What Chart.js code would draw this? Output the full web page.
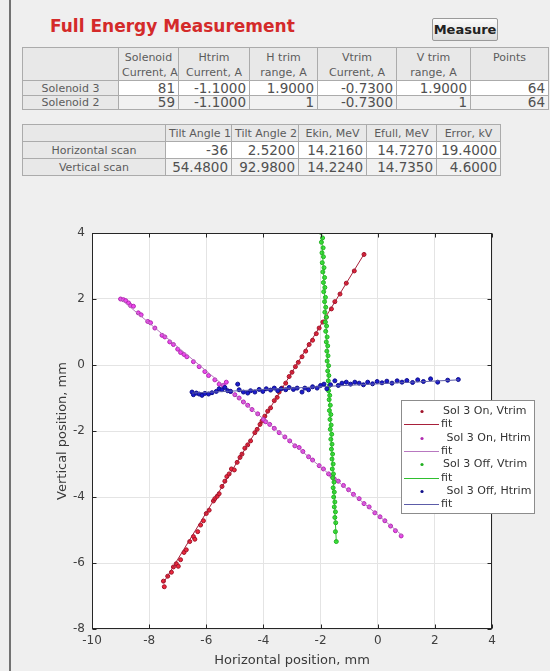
<!DOCTYPE html>
<html>
<head>
<meta charset="utf-8">
<title>Full Energy Measurement</title>
<script src="https://cdn.jsdelivr.net/npm/chart.js@4.4.1/dist/chart.umd.min.js"></script>
<style>
  html, body { margin: 0; padding: 0; }
  body {
    width: 550px; height: 671px; position: relative; overflow: hidden;
    background: #efefef; font-family: "DejaVu Sans", sans-serif;
  }
  #edge { position: absolute; left: 9px; top: 0; width: 2px; height: 671px; background: #727272; }
  #heading {
    position: absolute; left: 50px; top: 16px; margin: 0;
    font-size: 17px; font-weight: bold; color: #d42a2a; white-space: nowrap;
  }
  #measure {
    position: absolute; left: 432px; top: 18px; width: 66px; height: 23px;
    box-sizing: border-box; border: 1px solid #9a9a9a; border-radius: 2px;
    background: linear-gradient(#fbfbfb, #dcdcdc);
    font: bold 13px "DejaVu Sans", sans-serif; color: #222; padding: 0;
  }
  table.grid {
    position: absolute; left: 22px; border-collapse: collapse; table-layout: fixed;
    font-family: "DejaVu Sans", sans-serif;
  }
  table.grid td, table.grid th {
    border: 1px solid #ababab; padding: 0 3px; overflow: hidden; white-space: nowrap;
    box-sizing: border-box;
  }
  table.grid th { background: #e8e8e8; color: #5c5c5c; font-weight: normal; font-size: 11px; text-align: center; }
  table.grid td { font-size: 13.5px; color: #505050; text-align: right; }
  table.grid tr.odd td { background: #ffffff; }
  table.grid tr.even td { background: #f1f1f1; }
  #solenoids { top: 47px; width: 526px; }
  #solenoids thead th { vertical-align: top; padding-top: 2px; line-height: 15px; height: 33px; }
  #solenoids tbody tr:first-child { height: 15px; }
  #solenoids tbody tr:last-child { height: 14px; }
  #solenoids tbody th, #solenoids tbody td { line-height: 13px; }
  #scans { top: 124px; width: 478px; }
  #scans tr { height: 17px; }
  #scans th, #scans td { line-height: 15px; }
  #plot { position: absolute; left: 0; top: 180px; }
</style>
</head>
<body>
<div id="edge"></div>
<h1 id="heading">Full Energy Measurement</h1>
<button id="measure">Measure</button>
<table class="grid" id="solenoids"></table>
<table class="grid" id="scans"></table>
<canvas id="plot" width="550" height="491"></canvas>

<script>
// ---- Solenoid settings table ----
const solenoidHeaders = [["Solenoid", "Current, A"], ["Htrim", "Current, A"], ["H trim", "range, A"],
                         ["Vtrim", "Current, A"], ["V trim", "range, A"], ["Points"]];
const solenoidRows = ["Solenoid 3", "Solenoid 2"];
const solenoidValues = [
  ["81", "-1.1000", "1.9000", "-0.7300", "1.9000", "64"],
  ["59", "-1.1000", "1", "-0.7300", "1", "64"]
];
const solenoidColWidths = [96, 60, 71, 68, 79, 74, 78];

// ---- Scan results table ----
const scanHeaders = ["Tilt Angle 1", "Tilt Angle 2", "Ekin, MeV", "Efull, MeV", "Error, kV"];
const scanRows = ["Horizontal scan", "Vertical scan"];
const scanValues = [
  ["-36", "2.5200", "14.2160", "14.7270", "19.4000"],
  ["54.4800", "92.9800", "14.2240", "14.7350", "4.6000"]
];
const scanColWidths = [143, 66, 67, 68, 70, 64];

// ---- Beam positions, mm ----
const onVtrimX = [-7.50, -7.47, -7.35, -7.22, -7.15, -7.05, -6.98, -6.90, -6.78, -6.70, -6.58, -6.45, -6.40, -6.30, -6.20, -6.10,
                  -6.00, -5.90, -5.75, -5.70, -5.62, -5.55, -5.45, -5.35, -5.28, -5.20, -5.12, -5.02, -4.92, -4.82, -4.75, -4.65,
                  -4.55, -4.45, -4.30, -4.22, -4.12, -4.05, -3.95, -3.85, -3.75, -3.62, -3.52, -3.45, -3.35, -3.22, -3.10, -3.00,
                  -2.88, -2.78, -2.65, -2.52, -2.40, -2.28, -2.15, -2.05, -1.92, -1.80, -1.62, -1.50, -1.32, -1.10, -0.82, -0.48];
const onVtrimY = [-6.55, -6.72, -6.40, -6.28, -6.12, -6.02, -6.10, -5.90, -5.68, -5.60, -5.35, -5.20, -5.28, -5.05, -4.85, -4.72,
                  -4.50, -4.40, -4.12, -4.05, -3.98, -3.90, -3.68, -3.52, -3.38, -3.30, -3.15, -3.18, -2.95, -2.80, -2.70, -2.52,
                  -2.42, -2.30, -2.05, -1.95, -1.80, -1.70, -1.55, -1.40, -1.30, -1.08, -0.98, -0.82, -0.70, -0.55, -0.35, -0.22,
                  -0.05, 0.08, 0.25, 0.42, 0.62, 0.75, 0.95, 1.12, 1.30, 1.45, 1.70, 1.92, 2.15, 2.48, 2.85, 3.35];

const onHtrimX = [-9.00, -8.90, -8.82, -8.72, -8.65, -8.55, -8.38, -8.28, -8.05, -7.95, -7.80, -7.55, -7.45, -7.28, -7.15, -7.00,
                  -6.90, -6.78, -6.68, -6.45, -6.25, -6.05, -5.92, -5.70, -5.55, -5.40, -5.30, -5.15, -5.00, -4.85, -4.70, -4.55,
                  -4.40, -4.20, -4.00, -3.92, -3.78, -3.62, -3.45, -3.25, -3.08, -2.90, -2.75, -2.62, -2.42, -2.28, -2.05, -1.90,
                  -1.72, -1.60, -1.52, -1.38, -1.20, -1.02, -0.85, -0.65, -0.48, -0.30, -0.10, 0.08, 0.25, 0.45, 0.62, 0.82];
const onHtrimY = [2.00, 1.98, 1.95, 1.88, 1.80, 1.78, 1.58, 1.52, 1.32, 1.28, 1.12, 0.90, 0.85, 0.70, 0.62, 0.48,
                  0.38, 0.32, 0.25, 0.10, -0.05, -0.20, -0.32, -0.45, -0.58, -0.62, -0.52, -0.80, -0.90, -1.00, -1.12, -1.22,
                  -1.35, -1.48, -1.65, -1.72, -1.80, -1.92, -2.05, -2.18, -2.30, -2.45, -2.50, -2.62, -2.78, -2.88, -3.05, -3.15,
                  -3.30, -3.38, -3.45, -3.52, -3.65, -3.78, -3.92, -4.05, -4.20, -4.30, -4.48, -4.60, -4.72, -4.88, -5.02, -5.18];

const offVtrimX = [-1.99, -1.95, -1.99, -1.93, -1.97, -1.91, -1.95, -1.90, -1.94, -1.88, -1.92, -1.86, -1.90, -1.85, -1.89, -1.83,
                   -1.86, -1.82, -1.85, -1.80, -1.83, -1.79, -1.82, -1.77, -1.80, -1.75, -1.78, -1.74, -1.77, -1.72, -1.75, -1.71,
                   -1.73, -1.69, -1.72, -1.68, -1.70, -1.66, -1.69, -1.64, -1.67, -1.63, -1.66, -1.61, -1.64, -1.60, -1.62, -1.58,
                   -1.60, -1.56, -1.59, -1.55, -1.57, -1.53, -1.56, -1.52, -1.54, -1.50, -1.52, -1.48, -1.50, -1.47, -1.48, -1.45];
const offVtrimY = [4.30, 4.15, 4.02, 3.85, 3.72, 3.55, 3.40, 3.28, 3.10, 2.95, 2.82, 2.65, 2.50, 2.35, 2.22, 2.05,
                   1.92, 1.75, 1.60, 1.45, 1.30, 1.18, 1.02, 0.85, 0.70, 0.58, 0.42, 0.28, 0.12, -0.02, -0.18, -0.32,
                   -0.48, -0.62, -0.78, -0.92, -1.05, -1.22, -1.38, -1.50, -1.65, -1.82, -1.95, -2.10, -2.25, -2.40, -2.55, -2.70,
                   -2.85, -3.00, -3.15, -3.30, -3.42, -3.55, -3.72, -3.85, -4.00, -4.15, -4.30, -4.45, -4.62, -4.78, -5.05, -5.35];

const offHtrimX = [-6.50, -6.45, -6.35, -6.25, -6.15, -6.05, -5.92, -5.80, -5.65, -5.55, -5.45, -5.35, -5.25, -5.15, -4.90, -4.85,
                   -4.70, -4.55, -4.45, -4.30, -4.15, -4.02, -3.90, -3.75, -3.62, -3.50, -3.38, -3.22, -3.10, -2.95, -2.82, -2.65,
                   -2.55, -2.42, -2.28, -2.12, -2.00, -1.88, -1.78, -1.65, -1.50, -1.38, -1.25, -1.10, -0.95, -0.80, -0.65, -0.50,
                   -0.35, -0.18, -0.02, 0.15, 0.32, 0.50, 0.68, 0.85, 1.02, 1.22, 1.40, 1.60, 1.85, 2.10, 2.45, 2.82];
const offHtrimY = [-0.82, -0.90, -0.85, -0.88, -0.92, -0.86, -0.88, -0.84, -0.80, -0.72, -0.75, -0.68, -0.78, -0.80, -0.58, -0.75,
                   -0.82, -0.85, -0.78, -0.82, -0.74, -0.80, -0.72, -0.76, -0.70, -0.78, -0.72, -0.75, -0.68, -0.74, -0.70, -0.82,
                   -0.70, -0.75, -0.66, -0.70, -0.62, -0.58, -0.72, -0.60, -0.48, -0.62, -0.55, -0.52, -0.58, -0.52, -0.55, -0.60,
                   -0.52, -0.57, -0.50, -0.54, -0.49, -0.55, -0.48, -0.52, -0.47, -0.53, -0.45, -0.50, -0.42, -0.52, -0.46, -0.44];

// ---- Linear fits (end points) ----
const fitOnVtrimX = [-7.50, -0.45],  fitOnVtrimY = [-6.60, 3.40];
const fitOnHtrimX = [-9.00, 0.85],   fitOnHtrimY = [2.00, -5.16];
const fitOffVtrimX = [-1.98, -1.45], fitOffVtrimY = [4.30, -5.35];
const fitOffHtrimX = [-6.50, 2.85],  fitOffHtrimY = [-0.85, -0.45];

const xTicks = { min: -10, max: 4, step: 2 };
const yTicks = { min: -8, max: 4, step: 2 };

// ---- Build the tables ----
function buildTable(id, widths, headers, rows, values) {
  const t = document.getElementById(id);
  const cg = document.createElement("colgroup");
  widths.forEach(w => { const c = document.createElement("col"); c.style.width = w + "px"; cg.appendChild(c); });
  t.appendChild(cg);
  const thead = document.createElement("thead");
  const hr = document.createElement("tr");
  hr.appendChild(document.createElement("th"));
  headers.forEach(h => {
    const th = document.createElement("th");
    th.innerHTML = (Array.isArray(h) ? h : [h]).join("<br>");
    hr.appendChild(th);
  });
  thead.appendChild(hr);
  t.appendChild(thead);
  const tb = document.createElement("tbody");
  rows.forEach((r, i) => {
    const tr = document.createElement("tr");
    tr.className = i % 2 === 0 ? "odd" : "even";
    const th = document.createElement("th");
    th.textContent = r;
    tr.appendChild(th);
    values[i].forEach(v => { const td = document.createElement("td"); td.textContent = v; tr.appendChild(td); });
    tb.appendChild(tr);
  });
  t.appendChild(tb);
}
buildTable("solenoids", solenoidColWidths, solenoidHeaders, solenoidRows, solenoidValues);
buildTable("scans", scanColWidths, scanHeaders, scanRows, scanValues);

// ---- Chart ----
const pts = (xs, ys) => xs.map((x, i) => ({ x, y: ys[i] }));

function scatterSet(label, xs, ys, fill, edge) {
  return { label, data: pts(xs, ys), showLine: false, pointRadius: 2, pointHoverRadius: 2,
           pointBackgroundColor: fill, pointBorderColor: edge, pointBorderWidth: 1,
           backgroundColor: fill, borderColor: edge, kind: "marker" };
}
function fitSet(xs, ys, color) {
  return { label: "fit", data: pts(xs, ys), showLine: true, pointRadius: 0, borderWidth: 1,
           borderColor: color, backgroundColor: color, kind: "line" };
}

const datasets = [
  scatterSet("Sol 3 On, Vtrim", onVtrimX, onVtrimY, "#f0283c", "#a0142a"),
  fitSet(fitOnVtrimX, fitOnVtrimY, "#a8203a"),
  scatterSet(" Sol 3 On, Htrim", onHtrimX, onHtrimY, "#ee48ee", "#b02cb0"),
  fitSet(fitOnHtrimX, fitOnHtrimY, "#b878c0"),
  scatterSet("Sol 3 Off, Vtrim", offVtrimX, offVtrimY, "#3ee83e", "#22b022"),
  fitSet(fitOffVtrimX, fitOffVtrimY, "#2fbf2f"),
  scatterSet(" Sol 3 Off, Htrim", offHtrimX, offHtrimY, "#1c1cd0", "#10108a"),
  fitSet(fitOffHtrimX, fitOffHtrimY, "#5c5ca8")
];
// later series are drawn over earlier ones
datasets.forEach((d, i) => { d.order = datasets.length - i; });

const plotFrame = {
  id: "plotFrame",
  beforeDraw(chart) {
    const { ctx, chartArea: a } = chart;
    ctx.save();
    ctx.fillStyle = "#ffffff";
    ctx.fillRect(a.left, a.top, a.right - a.left, a.bottom - a.top);
    ctx.restore();
  },
  afterDatasetsDraw(chart) {
    const { ctx, chartArea: a, scales: { x, y } } = chart;
    const L = Math.round(a.left) + 0.5, R = Math.round(a.right) - 0.5;
    const T = Math.round(a.top) + 0.5, B = Math.round(a.bottom) - 0.5;
    ctx.save();
    ctx.strokeStyle = "#262626";
    ctx.lineWidth = 1;
    ctx.beginPath();
    x.ticks.forEach(t => {
      const px = Math.round(x.getPixelForValue(t.value)) + 0.5;
      ctx.moveTo(px, B); ctx.lineTo(px, B - 4);
      ctx.moveTo(px, T); ctx.lineTo(px, T + 4);
    });
    y.ticks.forEach(t => {
      const py = Math.round(y.getPixelForValue(t.value)) + 0.5;
      ctx.moveTo(L, py); ctx.lineTo(L + 4, py);
      ctx.moveTo(R, py); ctx.lineTo(R - 4, py);
    });
    ctx.stroke();
    ctx.strokeRect(L, T, R - L, B - T);
    ctx.restore();
  }
};

// Boxed legend drawn over the lower right of the axes
const boxLegend = {
  id: "boxLegend",
  afterDraw(chart) {
    const { ctx } = chart;
    const box = { left: 401, top: 220, right: 535, bottom: 334 };
    const rowTop = 231, rowStep = 13.3;
    ctx.save();
    ctx.fillStyle = "#ffffff";
    ctx.fillRect(box.left, box.top, box.right - box.left, box.bottom - box.top);
    ctx.strokeStyle = "#8c8c8c";
    ctx.lineWidth = 1;
    ctx.strokeRect(box.left + 0.5, box.top + 0.5, box.right - box.left - 1, box.bottom - box.top - 1);
    ctx.font = '11px "DejaVu Sans", sans-serif';
    ctx.textBaseline = "middle";
    ctx.fillStyle = "#333333";
    chart.data.datasets.forEach((d, i) => {
      const yy = Math.round(rowTop + i * rowStep) + 0.5;
      if (d.kind === "marker") {
        ctx.beginPath();
        ctx.arc(422, yy, 1.6, 0, Math.PI * 2);
        ctx.fillStyle = d.pointBorderColor;
        ctx.fill();
        ctx.fillStyle = "#333333";
        ctx.fillText(d.label, 443, yy);
      } else {
        ctx.beginPath();
        ctx.moveTo(404, yy); ctx.lineTo(439, yy);
        ctx.strokeStyle = d.borderColor;
        ctx.stroke();
        ctx.fillText(d.label, 441, yy);
      }
    });
    ctx.restore();
  }
};

const tickFont = { family: '"DejaVu Sans", sans-serif', size: 12 };
const titleFont = { family: '"DejaVu Sans", sans-serif', size: 13 };

new Chart(document.getElementById("plot"), {
  type: "scatter",
  data: { datasets },
  options: {
    responsive: false,
    animation: false,
    devicePixelRatio: 1,
    layout: { padding: { top: 53, right: 58, left: 0, bottom: 0 } },
    plugins: { legend: { display: false }, tooltip: { enabled: false } },
    events: [],
    scales: {
      x: {
        type: "linear", min: xTicks.min, max: xTicks.max,
        ticks: { stepSize: xTicks.step, font: tickFont, color: "#404040", padding: 5, maxRotation: 0 },
        grid: { color: "#e4e4e4", drawTicks: false },
        border: { display: false },
        title: { display: true, text: "Horizontal position, mm", font: titleFont, color: "#3a3a3a", padding: { top: 0, bottom: 3 } },
        afterFit(s) { s.height = 42; }
      },
      y: {
        type: "linear", min: yTicks.min, max: yTicks.max,
        ticks: { stepSize: yTicks.step, font: tickFont, color: "#404040", padding: 7 },
        grid: { color: "#e4e4e4", drawTicks: false },
        border: { display: false },
        title: { display: true, text: "Vertical position, mm", font: titleFont, color: "#3a3a3a", padding: { top: 55, bottom: 0 } },
        afterFit(s) { s.width = 92; }
      }
    }
  },
  plugins: [plotFrame, boxLegend]
});
</script>
</body>
</html>
